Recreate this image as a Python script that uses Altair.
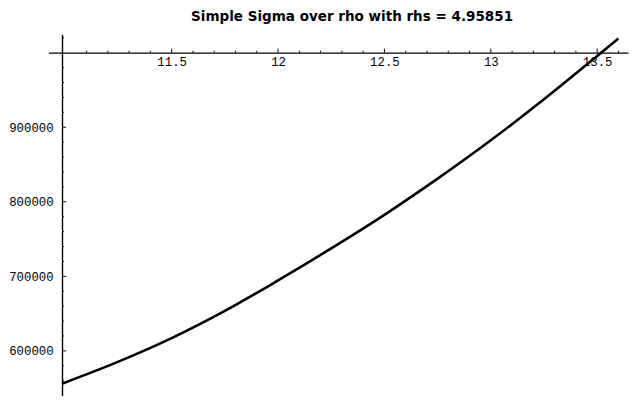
import altair as alt
import pandas as pd

# curve
rho = [10.985, 11.25, 11.5, 11.75, 12.0, 12.25, 12.5, 12.75, 13.0, 13.25, 13.5, 13.6]
sigma = [556000, 585500, 617000, 653500, 694500, 737500, 782500, 831000, 882500, 937500, 995500, 1019000]

# axis furniture
x_major = [11.5, 12.0, 12.5, 13.0, 13.5]
x_minor = [11.1, 11.2, 11.3, 11.4, 11.6, 11.7, 11.8, 11.9, 12.1, 12.2, 12.3, 12.4,
           12.6, 12.7, 12.8, 12.9, 13.1, 13.2, 13.3, 13.4, 13.6]
y_major = [600000, 700000, 800000, 900000]
y_minor = [560000, 580000, 620000, 640000, 660000, 680000, 720000, 740000, 760000,
           780000, 820000, 840000, 860000, 880000, 920000, 940000, 960000, 980000, 1020000]

x_origin = 10.985
y_origin = 1000000
x_domain = [10.921, 13.645]
y_domain = [540100, 1024800]

W, H = 587, 366
xs = alt.Scale(domain=x_domain, nice=False, zero=False)
ys = alt.Scale(domain=y_domain, nice=False, zero=False)

lab_font = "Liberation Mono"
lab_size = 12.5

xaxis = alt.Axis(orient="bottom", offset=-(H - (50.7 - 32)), values=x_major,
                 labelExpr="format(datum.value, '~g')", ticks=False, tickSize=0,
                 grid=False, domainColor="black", domainWidth=1.4, title=None,
                 labelFont=lab_font, labelFontSize=lab_size, labelColor="black",
                 labelPadding=3, labelBaseline="top")
yaxis = alt.Axis(orient="left", offset=-(62.7 - 49), values=y_major,
                 format="d", ticks=False, tickSize=0, grid=False, title=None,
                 domainColor="black", domainWidth=1.4,
                 labelFont=lab_font, labelFontSize=lab_size, labelColor="black",
                 labelPadding=9)

curve_df = pd.DataFrame({"rho": rho, "sigma": sigma})

line = alt.Chart(curve_df).mark_line(color="black", strokeWidth=2.6, interpolate="monotone").encode(
    x=alt.X("rho:Q", scale=xs, axis=xaxis),
    y=alt.Y("sigma:Q", scale=ys, axis=yaxis),
)

def xticks(vals, size):
    df = pd.DataFrame({"v": vals})
    return alt.Chart(df).mark_rule(color="black", strokeWidth=1, y2Offset=-size).encode(
        x=alt.X("v:Q", scale=xs, axis=xaxis),
        y=alt.YDatum(y_origin, scale=ys, axis=yaxis),
        y2=alt.Y2Datum(y_origin),
    )

def yticks(vals, size):
    df = pd.DataFrame({"v": vals})
    return alt.Chart(df).mark_rule(color="black", strokeWidth=1, x2Offset=size).encode(
        y=alt.Y("v:Q", scale=ys, axis=yaxis),
        x=alt.XDatum(x_origin, scale=xs, axis=xaxis),
        x2=alt.X2Datum(x_origin),
    )

chart = alt.layer(
    line, xticks(x_major, 4), xticks(x_minor, 2), yticks(y_major, 4), yticks(y_minor, 2)
).properties(
    width=W, height=H,
    autosize=alt.AutoSizeParams(type="none"),
    padding={"left": 41, "top": 24, "right": 2, "bottom": 2},
    title=alt.TitleParams("Simple Sigma over rho with rhs = 4.95851", font="DejaVu Sans",
                          fontSize=13.7, fontWeight="bold", color="black", anchor="middle",
                          baseline="alphabetic", offset=12, dy=13, dx=14),
).configure(background="white").configure_view(stroke=None)

chart.save("out.html", embed_options={"renderer": "svg", "actions": False})
